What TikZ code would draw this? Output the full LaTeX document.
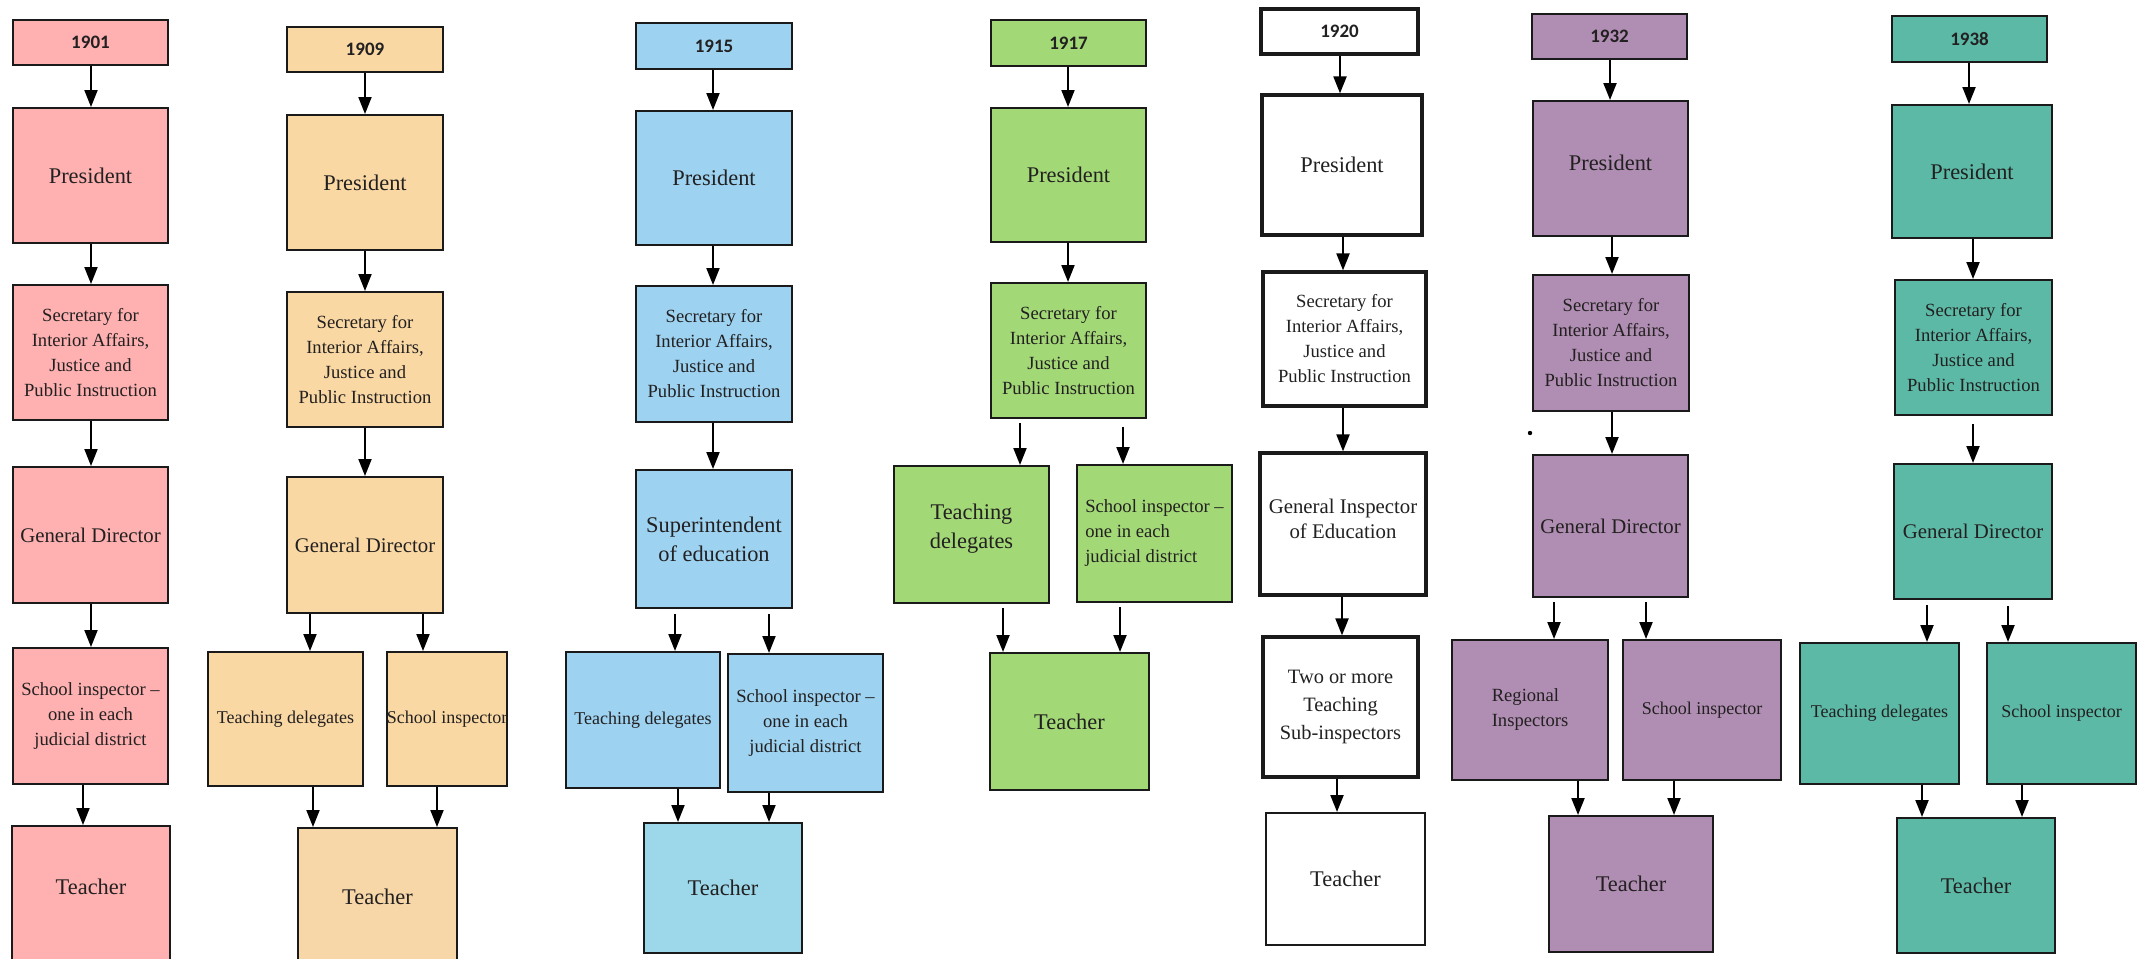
\documentclass[tikz,border=0pt]{standalone}
\usepackage{fontspec}
\setmainfont{Liberation Serif}
\newfontfamily\serf{Liberation Serif}
\newfontfamily\yearfont{Carlito}
\usetikzlibrary{arrows.meta}
\definecolor{cpink}{HTML}{FFB0B0}
\definecolor{cpeach}{HTML}{FAD8A4}
\definecolor{cpeachb}{HTML}{F7D6A8}
\definecolor{cblue}{HTML}{9DD2F1}
\definecolor{cblueb}{HTML}{9DD8EA}
\definecolor{cgreen}{HTML}{A3D877}
\definecolor{cpurple}{HTML}{B08DB2}
\definecolor{cteal}{HTML}{5CB9A6}
\definecolor{txt}{HTML}{222020}
\definecolor{edge}{HTML}{1A1A1A}
\newcommand\bx[7]{\node[box,#1,minimum width={(#5-#3)*0.5pt},minimum height={(#6-#4)*0.5pt}] (#2) at ({(#3+#5)/2},{(#4+#6)/2}) {#7};}
\newcommand\arw[4][]{\draw[arr,#1] (#2.south -| #4,0) -- (#3.north -| #4,0);}
\newcommand\lift[2]{\raisebox{#1}[\height][\depth]{#2}}
\tikzset{
  box/.style={draw=edge, line width=1pt, inner sep=0pt, align=center, text=txt},
  yr/.style={font=\yearfont\bfseries\fontsize{9.5}{11}\selectfont},
  big/.style={font=\serf\fontsize{11.2}{14.5}\selectfont},
  sec/.style={font=\serf\fontsize{9.3}{12.5}\selectfont},
  gdf/.style={font=\serf\fontsize{10.4}{12.5}\selectfont},
  sml/.style={font=\serf\fontsize{9}{12.5}\selectfont},
  thick20/.style={line width=1.6pt},
  arr/.style={draw=black, line width=1pt, -{Triangle[width=6.5pt,length=8.5pt]}},
}
\begin{document}
\begin{tikzpicture}[x=0.5pt,y=-0.5pt]
\useasboundingbox[fill=white] (0,0) rectangle (2140,958);
% ---------- 1901 ----------
\bx{fill=cpink,yr}{y01}{13}{20}{168}{65}{1901}
\bx{fill=cpink,big}{p01}{13}{108}{168}{243}{President}
\bx{fill=cpink,sec}{s01}{13}{285}{168}{420}{Secretary for\\Interior Affairs,\\Justice and\\Public Instruction}
\bx{fill=cpink,gdf}{g01}{13}{467}{168}{603}{General Director}
\bx{fill=cpink,sec}{i01}{13}{648}{168}{784}{School inspector –\\one in each\\judicial district}
\bx{fill=cpink,big}{t01}{12}{826}{170}{966}{\lift{4.5pt}{Teacher}}
\arw{y01}{p01}{91}
\arw{p01}{s01}{91}
\arw{s01}{g01}{91}
\arw{g01}{i01}{91}
\arw{i01}{t01}{83}
% ---------- 1909 ----------
\bx{fill=cpeach,yr}{y09}{287}{27}{443}{72}{1909}
\bx{fill=cpeach,big}{p09}{287}{115}{443}{250}{President}
\bx{fill=cpeach,sec}{s09}{287}{292}{443}{427}{Secretary for\\Interior Affairs,\\Justice and\\Public Instruction}
\bx{fill=cpeach,gdf}{g09}{287}{477}{443}{613}{General Director}
\bx{fill=cpeach,sml}{d09}{208}{652}{363}{786}{Teaching delegates}
\bx{fill=cpeach,sml}{i09}{389}{652}{505}{786}{School inspector}
\bx{fill=cpeachb,big}{t09}{298}{828}{457}{966}{Teacher}
\arw{y09}{p09}{365}
\arw{p09}{s09}{365}
\arw{s09}{g09}{365}
\arw{g09}{d09}{310}
\arw{g09}{i09}{423}
\arw{d09}{t09}{313}
\arw{i09}{t09}{437}
% ---------- 1915 ----------
\bx{fill=cblue,yr}{y15}{636}{23}{792}{69}{1915}
\bx{fill=cblue,big}{p15}{636}{111}{792}{245}{President}
\bx{fill=cblue,sec}{s15}{636}{286}{792}{422}{Secretary for\\Interior Affairs,\\Justice and\\Public Instruction}
\bx{fill=cblue,big}{g15}{636}{470}{792}{608}{Superintendent\\of education}
\bx{fill=cblue,sml}{d15}{566}{652}{720}{788}{Teaching delegates}
\bx{fill=cblue,sec}{i15}{728}{654}{883}{792}{School inspector –\\one in each\\judicial district}
\bx{fill=cblueb,big}{t15}{644}{823}{802}{953}{Teacher}
\arw{y15}{p15}{713}
\arw{p15}{s15}{713}
\arw{s15}{g15}{713}
\arw[shorten <=2.5pt]{g15}{d15}{675}
\arw[shorten <=2.5pt]{g15}{i15}{769}
\arw{d15}{t15}{678}
\arw{i15}{t15}{769}
% ---------- 1917 ----------
\bx{fill=cgreen,yr}{y17}{991}{20}{1146}{66}{1917}
\bx{fill=cgreen,big}{p17}{991}{108}{1146}{242}{President}
\bx{fill=cgreen,sec}{s17}{991}{283}{1146}{418}{Secretary for\\Interior Affairs,\\Justice and\\Public Instruction}
\bx{fill=cgreen,big}{d17}{894}{466}{1049}{603}{\lift{3pt}{Teaching}\\\lift{3pt}{delegates}}
\bx{fill=cgreen,sec,align=left}{i17}{1077}{465}{1232}{602}{School inspector –\\one in each\\judicial district}
\bx{fill=cgreen,big}{t17}{990}{653}{1149}{790}{Teacher}
\arw{y17}{p17}{1068}
\arw{p17}{s17}{1068}
\arw[shorten <=2pt]{s17}{d17}{1020}
\arw[shorten <=4pt]{s17}{i17}{1123}
\arw[shorten <=2pt]{d17}{t17}{1003}
\arw[shorten <=2pt]{i17}{t17}{1120}
% ---------- 1920 ----------
\bx{thick20,fill=white,yr}{y20}{1261}{9}{1418}{54}{1920}
\bx{thick20,fill=white,big}{p20}{1262}{95}{1422}{235}{President}
\bx{thick20,fill=white,sec}{s20}{1263}{272}{1426}{406}{Secretary for\\Interior Affairs,\\Justice and\\Public Instruction}
\bx{thick20,fill=white,gdf}{g20}{1260}{453}{1426}{595}{\lift{2.5pt}{General Inspector}\\\lift{2.5pt}{of Education}}
\bx{thick20,fill=white,font=\serf\fontsize{10.2}{13.8}\selectfont}{w20}{1263}{637}{1418}{777}{Two or more\\Teaching\\Sub-inspectors}
\bx{fill=white,big}{t20}{1266}{813}{1425}{945}{Teacher}
\arw{y20}{p20}{1340}
\arw{p20}{s20}{1343}
\arw{s20}{g20}{1343}
\arw{g20}{w20}{1342}
\arw{w20}{t20}{1337}
% ---------- 1932 ----------
\bx{fill=cpurple,yr}{y32}{1532}{14}{1687}{59}{1932}
\bx{fill=cpurple,big}{p32}{1533}{101}{1688}{236}{\lift{3pt}{President}}
\bx{fill=cpurple,sec}{s32}{1533}{275}{1689}{411}{Secretary for\\Interior Affairs,\\Justice and\\Public Instruction}
\bx{fill=cpurple,gdf}{g32}{1533}{455}{1688}{597}{General Director}
\bx{fill=cpurple,sec,align=left}{r32}{1452}{640}{1608}{780}{Regional\\Inspectors}
\bx{fill=cpurple,sml}{i32}{1623}{640}{1781}{780}{School inspector}
\bx{fill=cpurple,big}{t32}{1549}{816}{1713}{952}{Teacher}
\arw{y32}{p32}{1610}
\arw{p32}{s32}{1612}
\arw{s32}{g32}{1612}
\arw[shorten <=2pt]{g32}{r32}{1554}
\arw[shorten <=2pt]{g32}{i32}{1646}
\arw{r32}{t32}{1578}
\arw{i32}{t32}{1674}
\fill (1530,433) circle (2.2);
% ---------- 1938 ----------
\bx{fill=cteal,yr}{y38}{1892}{16}{2047}{62}{1938}
\bx{fill=cteal,big}{p38}{1892}{105}{2052}{238}{President}
\bx{fill=cteal,sec}{s38}{1895}{280}{2052}{415}{Secretary for\\Interior Affairs,\\Justice and\\Public Instruction}
\bx{fill=cteal,gdf}{g38}{1894}{464}{2052}{599}{General Director}
\bx{fill=cteal,sml}{d38}{1800}{643}{1959}{784}{Teaching delegates}
\bx{fill=cteal,sml}{i38}{1987}{643}{2136}{784}{School inspector}
\bx{fill=cteal,big}{t38}{1897}{818}{2055}{953}{Teacher}
\arw{y38}{p38}{1969}
\arw{p38}{s38}{1973}
\arw[shorten <=4pt]{s38}{g38}{1973}
\arw[shorten <=2.5pt]{g38}{d38}{1927}
\arw[shorten <=3pt]{g38}{i38}{2008}
\arw{d38}{t38}{1922}
\arw{i38}{t38}{2022}
\end{tikzpicture}
\end{document}
